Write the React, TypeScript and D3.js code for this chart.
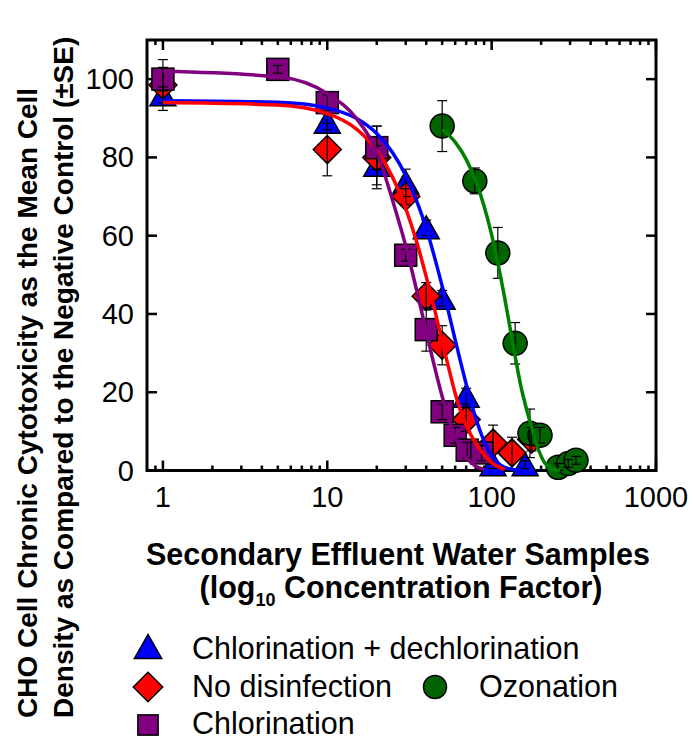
import React from "react";
import * as d3 from "d3";

// ---------- data ----------
const xTickValues = [1, 10, 100, 1000];
const xTickLabels = ["1", "10", "100", "1000"];
const yTickValues = [0, 20, 40, 60, 80, 100];
const yTickLabels = ["0", "20", "40", "60", "80", "100"];

// Chlorination + dechlorination
const blueX = [1, 10, 20, 30, 40, 50, 70, 102, 160];
const blueY = [96, 89, 78, 73.5, 62, 44, 19, 1.5, 1.5];
const blueSE = [2, 2, 5, 3.5, 2, 2, 2, 1, 1];
const blueCurveX = [1, 5, 10, 15, 20, 25, 30, 35, 40, 45, 50, 55, 60, 70, 80, 90, 100, 120, 150];
const blueCurveY = [94.5, 94.1, 92.6, 90, 86.1, 81.2, 75.4, 68.8, 61.9, 54.4, 47.1, 40, 33.4, 22.1, 13.4, 7.5, 3.9, 0.8, 0];

// No disinfection
const redX = [1, 10, 20, 30, 40, 50, 70, 102, 133, 175];
const redY = [98.5, 82, 80, 70, 44.5, 32, 13, 7, 4.5, 8];
const redSE = [6.5, 6.7, 8, 2, 3.5, 5, 3, 4.6, 4, 3];
const redCurveX = [1, 5, 10, 15, 20, 25, 30, 35, 40, 45, 50, 55, 60, 70, 80, 90, 100, 120];
const redCurveY = [94, 93.4, 91.2, 87.3, 81.8, 74.9, 67, 58.4, 49.5, 41.1, 33, 25.9, 19.7, 11.5, 7, 4, 2, 0.3];

// Chlorination
const purpleX = [1, 5, 10, 20, 30, 40, 50, 60, 71, 87];
const purpleY = [100, 102.5, 94, 82.5, 55, 36, 15, 9, 5.2, 4.5];
const purpleSE = [3, 1, 2, 5.5, 1.5, 5.5, 2, 2, 2, 2];
const purpleCurveX = [1, 5, 10, 15, 20, 25, 30, 35, 40, 45, 50, 55, 60, 70, 80, 90];
const purpleCurveY = [102, 100.6, 96.3, 90, 81.5, 68.9, 57.4, 46, 35.5, 26.4, 18.9, 13, 8.6, 3.3, 1.1, 0.3];

// Ozonation
const greenX = [50, 79, 109, 139, 171, 197, 254, 293, 326];
const greenY = [88, 74, 55.6, 32.5, 9.5, 9, 0.8, 1.8, 2.6];
const greenSE = [6.5, 3.3, 6.5, 5.3, 6.2, 2, 1, 1, 1];
const greenCurveX = [50, 60, 70, 80, 90, 100, 110, 120, 130, 140, 150, 160, 175, 190, 210, 230, 260];
const greenCurveY = [87.2, 83.9, 79.5, 74, 67.5, 60.2, 52.3, 44.1, 36, 28.5, 21.9, 17, 11, 6, 2, 0.5, 0];

const legendLabels = ["Chlorination + dechlorination", "No disinfection", "Ozonation", "Chlorination"];

type Shape = "triangle" | "diamond" | "square" | "circle";
interface Series {
  x: number[]; y: number[]; se: number[];
  cx: number[]; cy: number[];
  fill: string; line: string; shape: Shape;
}

const seriesList: Series[] = [
  { x: blueX, y: blueY, se: blueSE, cx: blueCurveX, cy: blueCurveY, fill: "#0000ff", line: "#0000ff", shape: "triangle" },
  { x: redX, y: redY, se: redSE, cx: redCurveX, cy: redCurveY, fill: "#ff0000", line: "#ff0000", shape: "diamond" },
  { x: purpleX, y: purpleY, se: purpleSE, cx: purpleCurveX, cy: purpleCurveY, fill: "#800080", line: "#800080", shape: "square" },
  { x: greenX, y: greenY, se: greenSE, cx: greenCurveX, cy: greenCurveY, fill: "#006400", line: "#008000", shape: "circle" },
];

// ---------- layout ----------
const W = 693, H = 740;
const L = 147, R = 656, T = 40, B = 470.5;
const FONT = "'Liberation Sans', Arial, sans-serif";

function marker(shape: Shape, x: number, y: number, fill: string, s = 1, key?: any) {
  const st = { fill, stroke: "#000", strokeWidth: 1.5 };
  if (shape === "triangle") {
    const p = `M${x},${y - 12 * s}L${x + 13 * s},${y + 11 * s}L${x - 13 * s},${y + 11 * s}Z`;
    return <path key={key} d={p} {...st} />;
  }
  if (shape === "diamond") {
    const r = 14 * s;
    const p = `M${x},${y - r}L${x + r},${y}L${x},${y + r}L${x - r},${y}Z`;
    return <path key={key} d={p} {...st} />;
  }
  if (shape === "square") {
    const h = 11 * s;
    return <rect key={key} x={x - h} y={y - h} width={2 * h} height={2 * h} {...st} />;
  }
  return <circle key={key} cx={x} cy={y} r={12 * s} {...st} />;
}

export default function App() {
  const xs = d3.scaleLog().domain([0.8, 1000]).range([L, R]);
  const ys = d3.scaleLinear().domain([0, 110]).range([B, T]);

  const minor: number[] = [0.9];
  for (const dec of [1, 10, 100]) for (let k = 2; k <= 9; k++) minor.push(k * dec);

  const line = d3
    .line<[number, number]>()
    .x((d) => xs(d[0]))
    .y((d) => ys(d[1]))
    .curve(d3.curveMonotoneX);

  return (
    <svg width={W} height={H} style={{ position: "absolute", left: 0, top: 0, background: "#fff" }} fontFamily={FONT}>
      <rect x={0} y={0} width={W} height={H} fill="#fff" />
      {/* ticks */}
      <g stroke="#000" strokeWidth={2.5}>
        {xTickValues.map((v) => (
          <g key={"xt" + v}>
            <line x1={xs(v)} x2={xs(v)} y1={B} y2={B - 10} />
            <line x1={xs(v)} x2={xs(v)} y1={T} y2={T + 10} />
          </g>
        ))}
        {minor.map((v) => (
          <g key={"xm" + v}>
            <line x1={xs(v)} x2={xs(v)} y1={B} y2={B - 5} />
            <line x1={xs(v)} x2={xs(v)} y1={T} y2={T + 5} />
          </g>
        ))}
        {yTickValues.map((v) => (
          <g key={"yt" + v}>
            <line x1={L} x2={L + 10} y1={ys(v)} y2={ys(v)} />
            <line x1={R} x2={R - 10} y1={ys(v)} y2={ys(v)} />
          </g>
        ))}
      </g>
      <rect x={L} y={T} width={R - L} height={B - T} fill="none" stroke="#000" strokeWidth={3} />

      {/* tick labels */}
      <g fontSize={29} fill="#000">
        {xTickValues.map((v, i) => (
          <text key={"xl" + v} x={xs(v)} y={507} textAnchor="middle">{xTickLabels[i]}</text>
        ))}
        {yTickValues.map((v, i) => (
          <text key={"yl" + v} x={134} y={ys(v) + 10} textAnchor="end">{yTickLabels[i]}</text>
        ))}
      </g>

      {/* markers */}
      {seriesList.map((s, si) => (
        <g key={"m" + si}>{s.x.map((xv, i) => marker(s.shape, xs(xv), ys(s.y[i]), s.fill, 1, i))}</g>
      ))}

      {/* error bars */}
      <g stroke="#000" strokeWidth={1.2}>
        {seriesList.map((s, si) =>
          s.x.map((xv, i) => {
            const px = xs(xv);
            const y1 = ys(s.y[i] + s.se[i]);
            const y2 = ys(Math.max(0, s.y[i] - s.se[i]));
            return (
              <g key={"e" + si + "-" + i}>
                <line x1={px} x2={px} y1={y1} y2={y2} />
                <line x1={px - 5} x2={px + 5} y1={y1} y2={y1} />
                <line x1={px - 5} x2={px + 5} y1={y2} y2={y2} />
              </g>
            );
          })
        )}
      </g>

      {/* curves */}
      {seriesList.map((s, si) => (
        <path
          key={"c" + si}
          d={line(s.cx.map((xv, i) => [xv, s.cy[i]] as [number, number])) || ""}
          fill="none"
          stroke={s.line}
          strokeWidth={3.5}
        />
      ))}

      {/* axis titles */}
      <g fontWeight="bold" fontSize={30.5} fill="#000">
        <text x={398} y={565} textAnchor="middle">Secondary Effluent Water Samples</text>
        <text x={401} y={598} textAnchor="middle">
          (log<tspan fontSize={18} dy={8}>10</tspan>
          <tspan dy={-8}> Concentration Factor)</tspan>
        </text>
      </g>
      <g fontWeight="bold" fontSize={28} fill="#000">
        <text transform="translate(37,718) rotate(-90)" textAnchor="start">CHO Cell Chronic Cytotoxicity as the Mean Cell</text>
        <text transform="translate(73,718) rotate(-90)" textAnchor="start">Density as Compared to the Negative Control (±SE)</text>
      </g>

      {/* legend */}
      <g fontSize={30.5} fill="#000">
        {marker("triangle", 148, 647, "#0000ff", 1.05)}
        <text x={192} y={659}>{legendLabels[0]}</text>
        {marker("diamond", 148, 687, "#ff0000", 1.05)}
        <text x={192} y={697}>{legendLabels[1]}</text>
        {marker("circle", 435, 687, "#006400", 0.96)}
        <text x={479} y={697}>{legendLabels[2]}</text>
        {marker("square", 148, 725, "#800080", 0.92)}
        <text x={192} y={734}>{legendLabels[3]}</text>
      </g>
    </svg>
  );
}
